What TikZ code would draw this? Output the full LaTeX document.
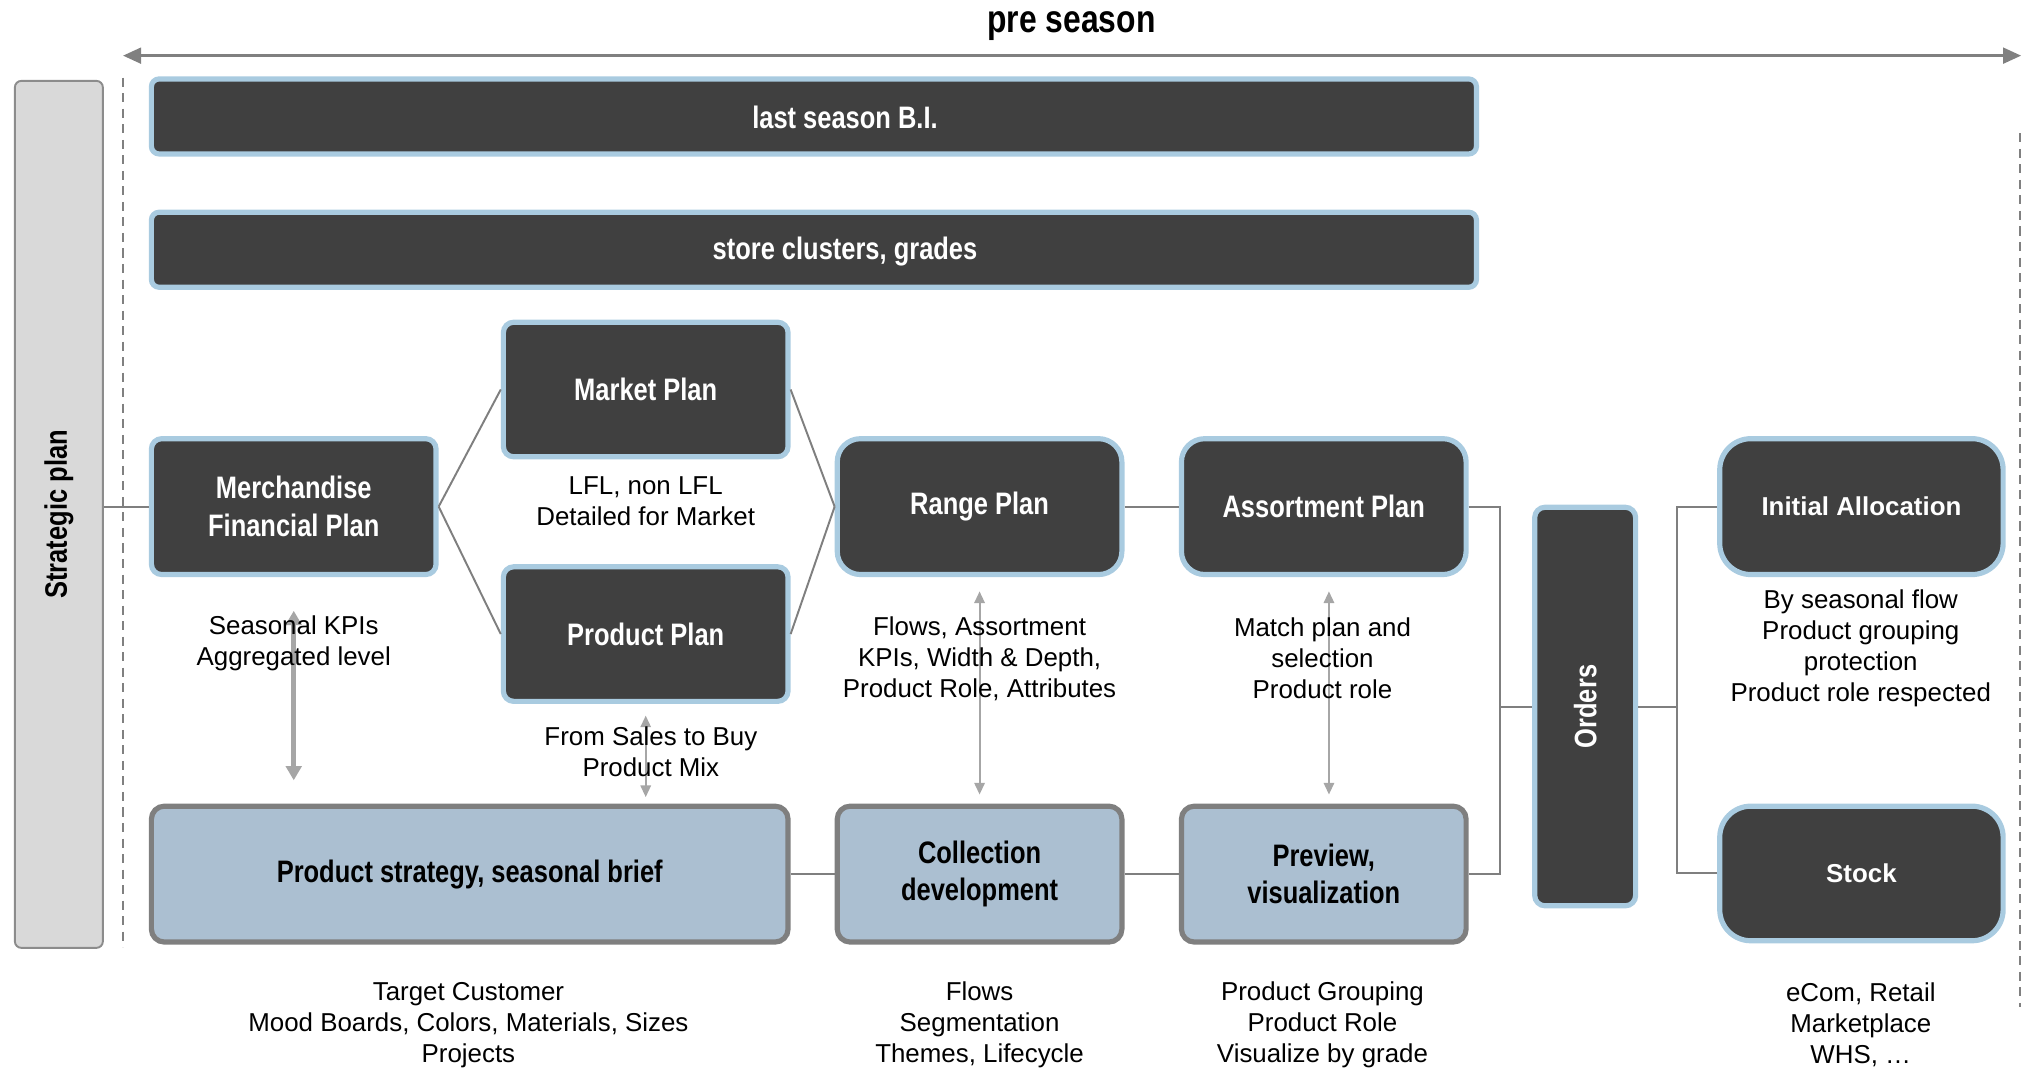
\documentclass[tikz,border=0pt]{standalone}
\usepackage{fontspec}
\setmainfont{Liberation Sans}
\newfontfamily\titlefont[FakeStretch=0.82]{Liberation Sans}
\usetikzlibrary{arrows.meta}
\definecolor{darkfill}{HTML}{404040}
\definecolor{lightblue}{HTML}{A9CBE0}
\definecolor{bluegray}{HTML}{ABBFD1}
\definecolor{bordergray}{HTML}{7F7F7F}
\definecolor{stratfill}{HTML}{D9D9D9}
\definecolor{stratdraw}{HTML}{8C8C8C}
\definecolor{arrowgray}{HTML}{A6A6A6}
\definecolor{linegray}{HTML}{808080}
\begin{document}
\begin{tikzpicture}[x=1pt,y=-1pt,
  darkbox/.style={draw=lightblue, fill=darkfill, line width=4pt, rounded corners=#1, inner sep=0pt,
    text=white, font=\titlefont\bfseries\fontsize{24}{29}\selectfont, align=center},
  darkbox/.default=8pt,
  widebox/.style={darkbox=#1, font=\bfseries\fontsize{20}{24}\selectfont},
  bluebox/.style={draw=bordergray, fill=bluegray, line width=4pt, rounded corners=10pt, inner sep=0pt,
    text=black, font=\titlefont\bfseries\fontsize{24}{29}\selectfont, align=center},
  whitetitle/.style={text=white, inner sep=0pt, font=\titlefont\bfseries\fontsize{24}{29}\selectfont},
  body/.style={align=center, inner sep=0pt, font=\fontsize{20}{24}\selectfont},
  conn/.style={draw=bordergray, line width=1.5pt},
  dbl/.style={draw=arrowgray, line width=1.5pt, {Triangle[length=9pt,width=8pt]}-{Triangle[length=9pt,width=8pt]}},
  dblthick/.style={draw=arrowgray, line width=4pt, {Triangle[length=11pt,width=12pt]}-{Triangle[length=11pt,width=12pt]}},
  guide/.style={draw=linegray, line width=1.5pt, dash pattern=on 7pt off 5pt}
]
\useasboundingbox (0,0) rectangle (1568,825);

% title and top arrow
\node[font=\titlefont\bfseries\fontsize{30}{36}\selectfont, inner sep=0pt] (pre) at (828,20) {pre season};
\coordinate (arrL) at (95,43);
\coordinate (arrR) at (1562,43);
\draw[draw=linegray, line width=2.5pt, {Triangle[length=14pt,width=12pt]}-{Triangle[length=14pt,width=12pt]}] (arrL) -- (arrR);

% dashed guides
\coordinate (gL1) at (95,60);
\coordinate (gL2) at (95,732);
\coordinate (gR1) at (1561,103);
\coordinate (gR2) at (1561,778);
\draw[guide] (gL1) -- (gL2);
\draw[guide] (gR1) -- (gR2);

% strategic plan
\node[draw=stratdraw, fill=stratfill, line width=1.5pt, rounded corners=5pt, minimum width=68pt, minimum height=670pt, inner sep=0pt] (strat) at (45.5,397.5) {};
\node[rotate=90, font=\titlefont\bfseries\fontsize{24}{29}\selectfont, inner sep=0pt] (strattext) at (strat.center) {Strategic plan};

% top bars
\node[darkbox=6pt, minimum width=1024pt, minimum height=58pt] (bi) at (629,90) {};
\node[whitetitle] (bitext) at (653,91) {last season B.I.};
\node[darkbox=6pt, minimum width=1024pt, minimum height=58pt] (clusters) at (629,193) {};
\node[whitetitle] (clusterstext) at (653,194) {store clusters, grades};

% planning boxes
\node[darkbox, minimum width=220pt, minimum height=105pt] (merch) at (227,391.5) {Merchandise\\Financial Plan};
\node[darkbox, minimum width=220pt, minimum height=104pt] (market) at (499,301) {Market Plan};
\node[darkbox, minimum width=220pt, minimum height=104pt] (product) at (499,490) {Product Plan};
\node[darkbox=18pt, minimum width=220pt, minimum height=105pt] (range) at (757,391.5) {Range Plan};
\node[darkbox=18pt, minimum width=220pt, minimum height=105pt] (assort) at (1023,391.5) {Assortment Plan};
\node[darkbox=8pt, minimum width=78pt, minimum height=308pt] (orders) at (1225,546) {};
\node[rotate=90, whitetitle] (orderstext) at (orders.center) {Orders};
\node[widebox=24pt, minimum width=219pt, minimum height=105pt] (alloc) at (1438.5,391.5) {Initial Allocation};
\node[widebox=24pt, minimum width=219pt, minimum height=104pt] (stock) at (1438.5,675) {Stock};

% bottom boxes
\node[bluebox, minimum width=492pt, minimum height=105pt] (strategy) at (363,675.5) {Product strategy, seasonal brief};
\node[bluebox, minimum width=220pt, minimum height=105pt] (collection) at (757,675.5) {Collection\\development};
\node[bluebox, minimum width=220pt, minimum height=105pt] (preview) at (1023,675.5) {Preview,\\visualization};

% connectors
\draw[conn] (strat.east |- merch.west) -- (merch.west);
\draw[conn] (merch.east) -- (market.west);
\draw[conn] (merch.east) -- (product.west);
\draw[conn] (market.east) -- (range.west);
\draw[conn] (product.east) -- (range.west);
\draw[conn] (range.east) -- (assort.west);
\draw[conn] (strategy.east) -- (collection.west);
\draw[conn] (collection.east) -- (preview.west);
\coordinate (busL) at (1159,546);
\coordinate (busR) at (1296,546);
\draw[conn] (assort.east) -| (busL) |- (preview.east);
\draw[conn] (busL) -- (orders.west);
\draw[conn] (orders.east) -- (busR);
\draw[conn] (alloc.west) -| (busR) |- (stock.west);

% vertical double arrows
\coordinate (a1t) at (227,472); \coordinate (a1b) at (227,603);
\coordinate (a2t) at (499,553); \coordinate (a2b) at (499,616);
\coordinate (a3t) at (757,457); \coordinate (a3b) at (757,614);
\coordinate (a4t) at (1027,457); \coordinate (a4b) at (1027,614);
\draw[dblthick] (a1t) -- (a1b);
\draw[dbl] (a2t) -- (a2b);
\draw[dbl] (a3t) -- (a3b);
\draw[dbl] (a4t) -- (a4b);

% annotations
\node[body] (t1) at (227,497) {Seasonal KPIs\\Aggregated level};
\node[body] (t2) at (499,387) {LFL, non LFL\\Detailed for Market};
\node[body] (t3) at (503,581) {From Sales to Buy\\Product Mix};
\node[body] (t4) at (757,509) {Flows, Assortment\\KPIs, Width \& Depth,\\Product Role, Attributes};
\node[body] (t5) at (1022,509) {Match plan and\\selection\\Product role};
\node[body] (t6) at (1438,501) {By seasonal flow\\Product grouping\\protection\\Product role respected};
\node[body] (t7) at (362,792) {Target Customer\\Mood Boards, Colors, Materials, Sizes\\Projects};
\node[body] (t8) at (757,792) {Flows\\Segmentation\\Themes, Lifecycle};
\node[body] (t9) at (1022,792) {Product Grouping\\Product Role\\Visualize by grade};
\node[body] (t10) at (1438,792) {eCom, Retail\\Marketplace\\WHS, \dots};
\end{tikzpicture}
\end{document}
